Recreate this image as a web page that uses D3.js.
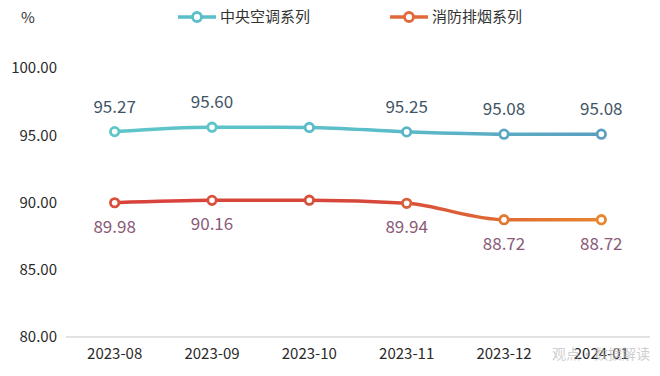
<!DOCTYPE html>
<html>
<head>
<meta charset="utf-8">
<script src="https://cdn.jsdelivr.net/npm/d3@7"></script>
<style>
  body { margin: 0; background: #fff; }
  svg { display: block; font-family: "Noto Sans CJK SC", "Open Sans", sans-serif; }
</style>
</head>
<body>
<div id="chart"></div>
<script>
const months = ['2023-08', '2023-09', '2023-10', '2023-11', '2023-12', '2024-01'];
const hvacValues = [95.27, 95.60, 95.58, 95.25, 95.08, 95.08];
const smokeValues = [89.98, 90.16, 90.17, 89.94, 88.72, 88.72];
// which points carry a value label (2023-10 has none in the original)
const showLabel = [true, true, false, true, true, true];
const yTicks = [80, 85, 90, 95, 100];
const seriesNames = ['中央空调系列', '消防排烟系列'];

const width = 660, height = 376;
const margin = { top: 68, right: 10, bottom: 41, left: 66 };

const svg = d3.select('#chart').append('svg')
  .attr('width', width)
  .attr('height', height);

const defs = svg.append('defs');

const x = d3.scaleBand()
  .domain(months)
  .range([margin.left, width - margin.right]);

const y = d3.scaleLinear()
  .domain([80, 100])
  .range([height - margin.bottom + 2, margin.top]);

const xc = d => x(d) + x.bandwidth() / 2;

// gradients along the lines
function grad(id, c1, c2) {
  const g = defs.append('linearGradient')
    .attr('id', id)
    .attr('gradientUnits', 'userSpaceOnUse')
    .attr('x1', xc(months[0])).attr('x2', xc(months[months.length - 1]))
    .attr('y1', 0).attr('y2', 0);
  g.append('stop').attr('offset', '0%').attr('stop-color', c1[0]);
  g.append('stop').attr('offset', '55%').attr('stop-color', c1[1]);
  g.append('stop').attr('offset', '100%').attr('stop-color', c2);
}
grad('gradHvac', ['#5ec6c9', '#5bbdc9'], '#5b9ec0');
grad('gradSmoke', ['#d8423b', '#d6483a'], '#e8862f');

// y axis labels
svg.append('g').selectAll('text')
  .data(yTicks)
  .join('text')
  .attr('x', 57)
  .attr('y', d => y(d))
  .attr('dy', '0.35em')
  .attr('text-anchor', 'end')
  .attr('font-size', 15)
  .attr('fill', '#2a2a2a')
  .text(d => d.toFixed(2));

// baseline
svg.append('line')
  .attr('x1', margin.left).attr('x2', width - margin.right)
  .attr('y1', y(80)).attr('y2', y(80))
  .attr('stroke', '#d9d9d9')
  .attr('stroke-width', 1.5);

// x axis labels
svg.append('g').selectAll('text')
  .data(months)
  .join('text')
  .attr('x', d => xc(d))
  .attr('y', y(80) + 22)
  .attr('text-anchor', 'middle')
  .attr('font-size', 15)
  .attr('fill', '#2a2a2a')
  .text(d => d);

// unit
svg.append('text')
  .attr('x', 28).attr('y', 23)
  .attr('text-anchor', 'middle')
  .attr('font-size', 15)
  .attr('fill', '#333')
  .text('%');

const line = d3.line()
  .x((d, i) => xc(months[i]))
  .y(d => y(d))
  .curve(d3.curveMonotoneX);

const series = [
  { name: seriesNames[0], values: hvacValues, stroke: 'url(#gradHvac)', color: '#5bbfc9',
    markerColors: ['#5ec6c9', '#5ec4c9', '#5bbdc9', '#5bb3c6', '#5aa6c2', '#5b9ec0'],
    labelColor: '#3f5566', labelDy: -19, legendX: 178 },
  { name: seriesNames[1], values: smokeValues, stroke: 'url(#gradSmoke)', color: '#e06a3a',
    markerColors: ['#d8503b', '#d9503b', '#d6503a', '#d8603a', '#e07a33', '#e8862f'],
    labelColor: '#8a5a78', labelDy: 30, legendX: 390 }
];

series.forEach(s => {
  svg.append('path')
    .datum(s.values)
    .attr('d', line)
    .attr('fill', 'none')
    .attr('stroke', s.stroke)
    .attr('stroke-width', 3.5);

  svg.append('g').selectAll('circle')
    .data(s.values)
    .join('circle')
    .attr('cx', (d, i) => xc(months[i]))
    .attr('cy', d => y(d))
    .attr('r', 4.2)
    .attr('fill', '#fff')
    .attr('stroke', (d, i) => s.markerColors[i])
    .attr('stroke-width', 2.8);

  svg.append('g').selectAll('text')
    .data(s.values.map((v, i) => ({ v, i })).filter(d => showLabel[d.i]))
    .join('text')
    .attr('x', d => xc(months[d.i]))
    .attr('y', d => y(d.v) + s.labelDy)
    .attr('text-anchor', 'middle')
    .attr('font-size', 17)
    .attr('fill', s.labelColor)
    .text(d => d.v.toFixed(2));

  // legend
  const lg = svg.append('g').attr('transform', `translate(${s.legendX},17)`);
  lg.append('line')
    .attr('x1', 0).attr('x2', 38)
    .attr('y1', 0).attr('y2', 0)
    .attr('stroke', s.color)
    .attr('stroke-width', 3.5);
  lg.append('circle')
    .attr('cx', 19).attr('cy', 0).attr('r', 4.5)
    .attr('fill', '#fff')
    .attr('stroke', s.color)
    .attr('stroke-width', 2.8);
  lg.append('text')
    .attr('x', 42).attr('y', 0)
    .attr('dy', '0.35em')
    .attr('font-size', 15)
    .attr('fill', '#333')
    .text(s.name);
});

// faint watermark (overlaps the last tick label, as in the original)
svg.append('text')
  .attr('x', 650).attr('y', y(80) + 22)
  .attr('text-anchor', 'end')
  .attr('font-size', 14)
  .attr('fill', '#bbb')
  .attr('opacity', 0.7)
  .text('观点·数据解读');
</script>
</body>
</html>
